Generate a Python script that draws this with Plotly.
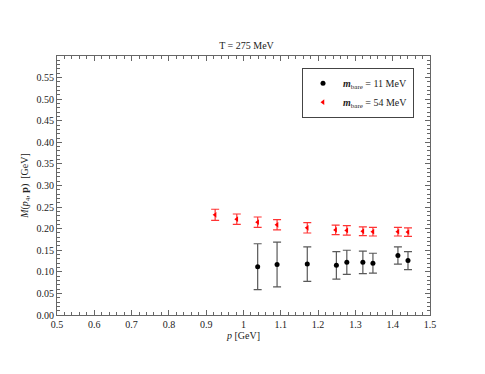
import plotly.graph_objects as go

p_red = [0.924, 0.982, 1.038, 1.090, 1.171, 1.247, 1.277, 1.320, 1.347, 1.414, 1.441]
M_red = [0.232, 0.222, 0.215, 0.209, 0.202, 0.197, 0.196, 0.194, 0.193, 0.193, 0.192]
err_red = [0.013, 0.012, 0.012, 0.012, 0.012, 0.011, 0.011, 0.010, 0.010, 0.010, 0.010]

p_blk = [1.038, 1.090, 1.171, 1.249, 1.277, 1.320, 1.347, 1.414, 1.441]
M_blk = [0.112, 0.117, 0.118, 0.115, 0.122, 0.122, 0.120, 0.138, 0.126]
err_blk = [0.053, 0.052, 0.040, 0.032, 0.028, 0.026, 0.023, 0.020, 0.021]

x_ticks = [0.5, 0.6, 0.7, 0.8, 0.9, 1.0, 1.1, 1.2, 1.3, 1.4, 1.5]
x_labels = ["0.5", "0.6", "0.7", "0.8", "0.9", "1", "1.1", "1.2", "1.3", "1.4", "1.5"]
y_ticks = [0, 0.05, 0.1, 0.15, 0.2, 0.25, 0.3, 0.35, 0.4, 0.45, 0.5, 0.55]

serif = "Liberation Serif"

fig = go.Figure()
fig.add_trace(go.Scatter(
    x=p_blk, y=M_blk, mode="markers",
    name="<b><i>m</i></b><sub>bare</sub> = 11 MeV",
    marker=dict(symbol="circle", size=5, color="black"),
    error_y=dict(type="data", array=err_blk, color="rgba(60,60,60,0.85)", thickness=1.2, width=4),
))
fig.add_trace(go.Scatter(
    x=p_red, y=M_red, mode="markers",
    name="<b><i>m</i></b><sub>bare</sub> = 54 MeV",
    marker=dict(symbol="triangle-left", size=5, color="red"),
    error_y=dict(type="data", array=err_red, color="rgba(255,0,0,0.8)", thickness=1.2, width=4),
))

axis_common = dict(
    showgrid=False, zeroline=False, showline=True, linecolor="#666", linewidth=1,
    mirror="allticks", ticks="inside", ticklen=5, tickcolor="#666", automargin=False,
    tickfont=dict(family=serif, size=10, color="#222"),
)
fig.update_xaxes(
    range=[0.5, 1.5], tickvals=x_ticks, ticktext=x_labels,
    title=dict(text="<i>p</i> [GeV]", font=dict(family=serif, size=10, color="#222"), standoff=1),
    minor=dict(dtick=0.02, tick0=0.5, ticks="inside", ticklen=3, tickcolor="#666"),
    **axis_common,
)
fig.update_yaxes(
    range=[0, 0.6], tickvals=y_ticks, tickformat=".2f",
    title=dict(text="<i>M</i>(<i>p</i><sub>4</sub>, <b>p</b>)  [GeV]", font=dict(family=serif, size=10, color="#222"), standoff=6),
    minor=dict(dtick=0.01, tick0=0, ticks="inside", ticklen=3, tickcolor="#666"),
    **axis_common,
)

fig.update_layout(
    width=477, height=366,
    margin=dict(l=49, r=55, t=48, b=59),
    paper_bgcolor="white", plot_bgcolor="white",
    title=dict(text="T = 275 MeV", x=0.5, xanchor="center", y=1-37/366, yanchor="middle",
               font=dict(family=serif, size=10, color="#222")),
    showlegend=True,
    legend=dict(x=(414-57)/373, y=0.955, xanchor="right", yanchor="top",
                bordercolor="#444", borderwidth=1, bgcolor="white",
                font=dict(family=serif, size=10, color="#222"),
                itemwidth=30, tracegroupgap=0),
    font=dict(family=serif),
)

fig.write_html("out.html")
